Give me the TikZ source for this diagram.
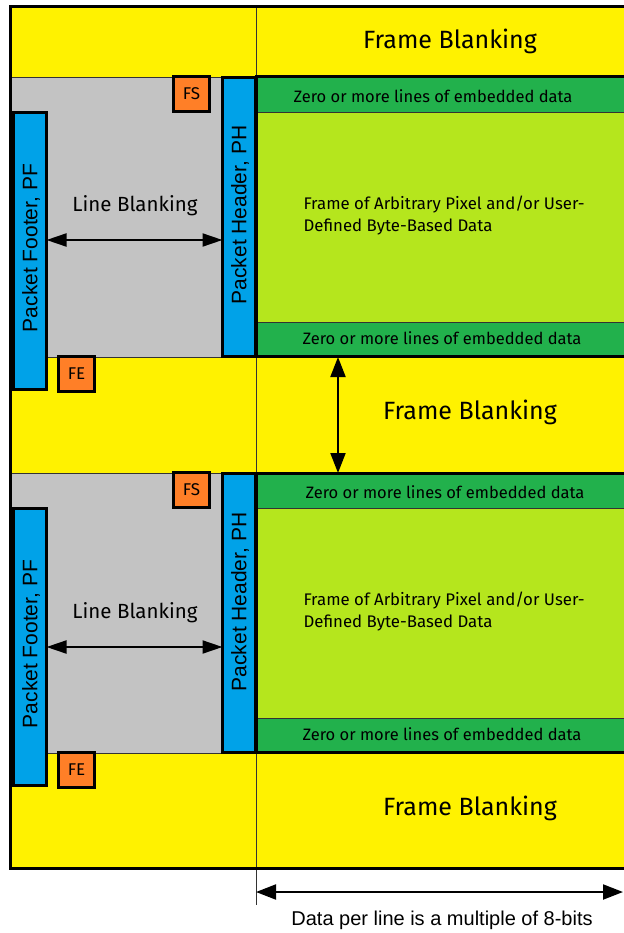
\documentclass[tikz,border=0pt]{standalone}
\usepackage{fontspec}
\setmainfont{Fira Sans}
\newfontfamily\arialfont{Liberation Sans}
\usepackage{tikz}
\usetikzlibrary{arrows.meta, positioning}
\usepackage{xcolor}

\definecolor{fbyellow}{HTML}{FFF200}
\definecolor{lbgray}{HTML}{C3C3C3}
\definecolor{embgreen}{HTML}{22B14C}
\definecolor{pixgreen}{HTML}{B5E61D}
\definecolor{pktblue}{HTML}{00A2E8}
\definecolor{markorange}{HTML}{FF7F27}

\begin{document}
\begin{tikzpicture}[x=1pt, y=-1pt,
    area/.style={draw=black!80, line width=0.8pt, inner sep=0pt, outer sep=0pt, anchor=north west},
    band/.style={area, fill=fbyellow},
    blank/.style={area, fill=lbgray},
    embed/.style={area, fill=embgreen},
    pixel/.style={area, fill=pixgreen},
    heavy/.style={draw=black, line width=3pt},
    pkt/.style={heavy, fill=pktblue, inner sep=0pt, outer sep=0pt, anchor=north west},
    marker/.style={heavy, fill=markorange, inner sep=0pt, outer sep=0pt, minimum width=36pt, minimum height=35pt, anchor=north west, font=\fontsize{17}{19}\selectfont},
    pktlabel/.style={rotate=90, font=\arialfont\fontsize{21}{24}\selectfont},
    fblabel/.style={font=\fontsize{25}{30}\selectfont},
    lblabel/.style={font=\fontsize{20.5}{24}\selectfont},
    embtext/.style={font=\fontsize{16.5}{19}\selectfont},
    datatext/.style={font=\fontsize{16.8}{22}\selectfont, align=left, anchor=west},
    dimarrow/.style={line width=2pt, {Triangle[length=20pt,width=15pt]}-{Triangle[length=20pt,width=15pt]}},
    lbarrow/.style={line width=2pt, {Triangle[length=20pt,width=13pt]}-{Triangle[length=20pt,width=13pt]}},
  ]
      \useasboundingbox (0,0) rectangle (623,933);

      % Frame blanking bands
      \node[band, minimum width=620pt, minimum height=70pt] (fbtop) at (10,7) {};
      \node[band, minimum width=620pt, minimum height=116pt] (fbmid) at (10,357) {};
      \node[band, minimum width=620pt, minimum height=116pt] (fbbot) at (10,752) {};

      % Separator between blanking and data
      \coordinate (sepbot) at (256,905);
      \draw[black!80, line width=0.8pt] (fbtop.north west -| sepbot) -- (sepbot);

      % Two frames
      \foreach \oy/\ly/\zx/\phy [count=\i] in {0/240/433/215, 396/647/445/602}{
        \node[blank, minimum width=212pt, minimum height=280pt] (lb\i) at (10,77+\oy) {};
        \node[embed, minimum width=374pt, minimum height=35pt] (emtop\i) at (256,77+\oy) {};
        \node[pixel, minimum width=374pt, minimum height=210pt] (pix\i) at (256,112+\oy) {};
        \node[embed, minimum width=374pt, minimum height=34pt] (embot\i) at (256,322+\oy) {};
        \draw[heavy] (emtop\i.north west) rectangle (embot\i.south east);

        \node[pkt, minimum width=33pt, minimum height=279pt] (ph\i) at (222.5,77.5+\oy) {};
        \node[pkt, minimum width=33pt, minimum height=277pt] (pf\i) at (13.5,112.5+\oy) {};
        \node[marker] (fs\i) at (173.5,76.5+\oy) {FS};
        \node[marker] (fe\i) at (58.5,356.5+\oy) {FE};

        \node[pktlabel] at (240,\phy) {Packet Header, PH};
        \node[pktlabel] at (31,248+\oy) {Packet Footer, PF};

        % Line blanking width
        \coordinate (lba\i) at (135,\ly);
        \node[lblabel] (lbt\i) at (135,\ly-34) {Line Blanking};
        \draw[lbarrow] (pf\i.east |- lba\i) -- (ph\i.west |- lba\i);

        \node[embtext] (emtopt\i) at (\zx,96+\oy) {Zero or more lines of embedded data};
        \node[embtext] (embott\i) at (442,338+\oy) {Zero or more lines of embedded data};
        \node[datatext] (pixt\i) at (300,215.5+\oy) {Frame of Arbitrary Pixel and/or User-\\Defined Byte-Based Data};
      }

      % Labels
      \node[fblabel] (fbtopt) at (450,41) {Frame Blanking};
      \node[fblabel] (fbmidt) at (470,412) {Frame Blanking};
      \node[fblabel] (fbbott) at (470,808) {Frame Blanking};

      % Outer frame
      \draw[heavy] (fbtop.north west) rectangle (630,868);

      % Frame blanking height
      \coordinate (fbarrow) at (338,0);
      \draw[dimarrow] (fbmid.north -| fbarrow) -- (fbmid.south -| fbarrow);

      % Data per line
      \coordinate (dimL) at (256,892);
      \coordinate (dimR) at (623,892);
      \draw[dimarrow] (dimL) -- (dimR);
      \node[font=\arialfont\fontsize{20}{24}\selectfont] (dimt) at (442,920) {Data per line is a multiple of 8-bits};
    \end{tikzpicture}
\end{document}
